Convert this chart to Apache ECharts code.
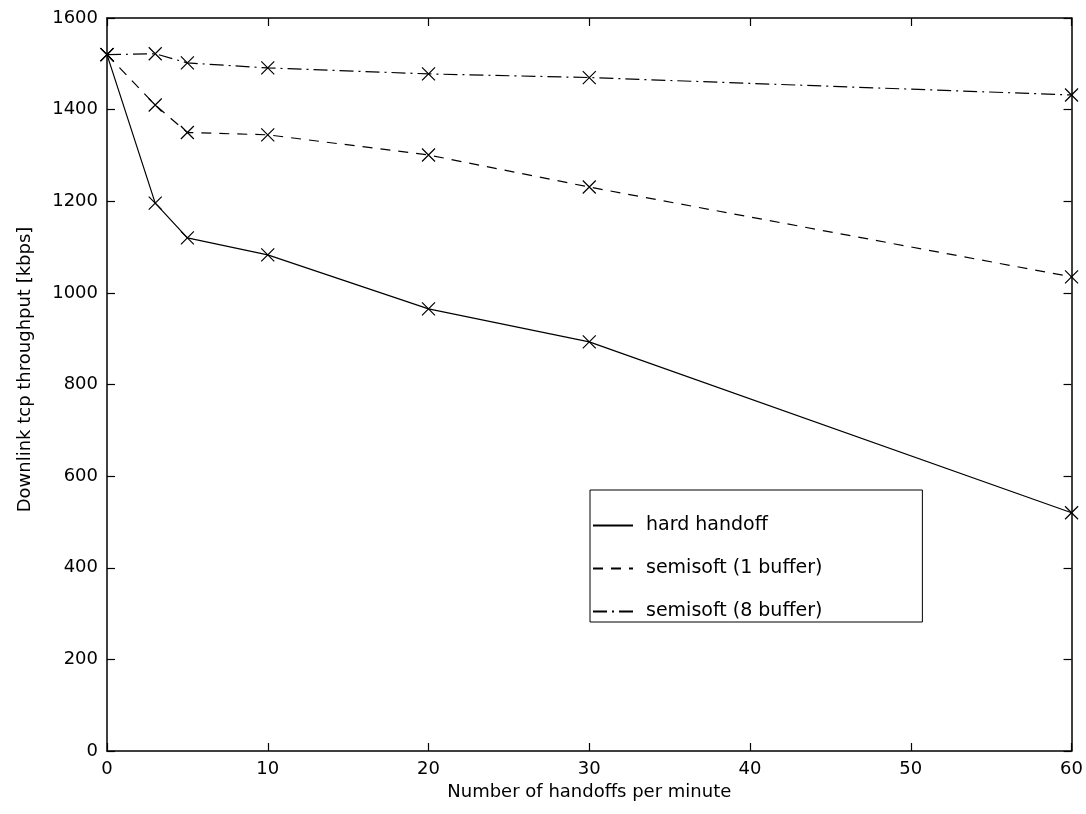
<!DOCTYPE html>
<html>
<head>
<meta charset="utf-8">
<script src="https://cdn.jsdelivr.net/npm/echarts@6/dist/echarts.min.js"></script>
<style>
html,body{margin:0;padding:0;background:#fff;}
#chart{width:1086px;height:814px;}
</style>
</head>
<body>
<div id="chart"></div>
<script>
const xValues = [0, 3, 5, 10, 20, 30, 60];
const hardHandoff = [1520, 1196, 1120, 1083, 965, 893, 520];
const semisoft1 = [1520, 1410, 1350, 1345, 1301, 1231, 1035];
const semisoft8 = [1520, 1522, 1502, 1491, 1478, 1470, 1432];
const seriesNames = ['hard handoff', 'semisoft (1 buffer)', 'semisoft (8 buffer)'];
const xTitle = 'Number of handoffs per minute';
const yTitle = 'Downlink tcp throughput [kbps]';

const xMark = 'path://M0,0L10,10M10,0L0,10';
const tickFont = {fontFamily: 'DejaVu Sans', fontSize: 18, color: '#000'};
const nameFont = {fontFamily: 'DejaVu Sans', fontSize: 18, color: '#000'};

function pairs(ys) { return xValues.map((x, i) => [x, ys[i]]); }

function mkSeries(name, ys, dash) {
  return {
    name: name,
    type: 'line',
    data: pairs(ys),
    symbol: xMark,
    symbolSize: 13,
    showSymbol: true,
    lineStyle: {color: '#000', width: 1.2, type: dash},
    itemStyle: {color: '#000', borderColor: '#000', borderWidth: 1.2},
    emphasis: {disabled: true},
    animation: false,
    z: 3
  };
}

const chart = echarts.init(document.getElementById('chart'), null, {renderer: 'canvas'});
chart.setOption({
  backgroundColor: '#fff',
  animation: false,
  grid: {left: 107, right: 14, top: 18, bottom: 63, containLabel: false},
  legend: {
    orient: 'vertical',
    left: 590,
    top: 490,
    padding: [26, 100, 1, 2],
    itemGap: 24,
    itemWidth: 40,
    itemHeight: 18,
    backgroundColor: '#fff',
    borderColor: '#000',
    borderWidth: 1,
    borderRadius: 0,
    itemStyle: {opacity: 0},
    textStyle: {fontFamily: 'DejaVu Sans', fontSize: 19, color: '#000', lineHeight: 18, padding: [0, 0, 0, 8]},
    data: seriesNames,
    selectedMode: false
  },
  xAxis: [{
    type: 'value', min: 0, max: 60, interval: 10, position: 'bottom',
    name: xTitle, nameLocation: 'middle', nameGap: 29,
    nameTextStyle: nameFont,
    axisLine: {show: true, onZero: false, lineStyle: {color: '#000', width: 1.5}},
    axisTick: {show: true, inside: true, length: 8, lineStyle: {color: '#000', width: 1.2}},
    axisLabel: Object.assign({margin: 9, formatter: v => String(v)}, tickFont),
    splitLine: {show: false}
  }, {
    type: 'value', min: 0, max: 60, interval: 10, position: 'top',
    axisLine: {show: true, onZero: false, lineStyle: {color: '#000', width: 1.5}},
    axisTick: {show: true, inside: true, length: 8, lineStyle: {color: '#000', width: 1.2}},
    axisLabel: {show: false},
    splitLine: {show: false}
  }],
  yAxis: [{
    type: 'value', min: 0, max: 1600, interval: 200, position: 'left',
    name: yTitle, nameLocation: 'middle', nameGap: 73,
    nameTextStyle: Object.assign({padding: [0, 0, 0, 30]}, nameFont),
    axisLine: {show: true, onZero: false, lineStyle: {color: '#000', width: 1.5}},
    axisTick: {show: true, inside: true, length: 8, lineStyle: {color: '#000', width: 1.2}},
    axisLabel: Object.assign({margin: 9, formatter: v => String(v)}, tickFont),
    splitLine: {show: false}
  }, {
    type: 'value', min: 0, max: 1600, interval: 200, position: 'right',
    axisLine: {show: true, onZero: false, lineStyle: {color: '#000', width: 1.5}},
    axisTick: {show: true, inside: true, length: 8, lineStyle: {color: '#000', width: 1.2}},
    axisLabel: {show: false},
    splitLine: {show: false}
  }],
  series: [
    mkSeries(seriesNames[0], hardHandoff, 'solid'),
    mkSeries(seriesNames[1], semisoft1, [10, 8]),
    mkSeries(seriesNames[2], semisoft8, [14, 5, 2, 5])
  ]
});
</script>
</body>
</html>
